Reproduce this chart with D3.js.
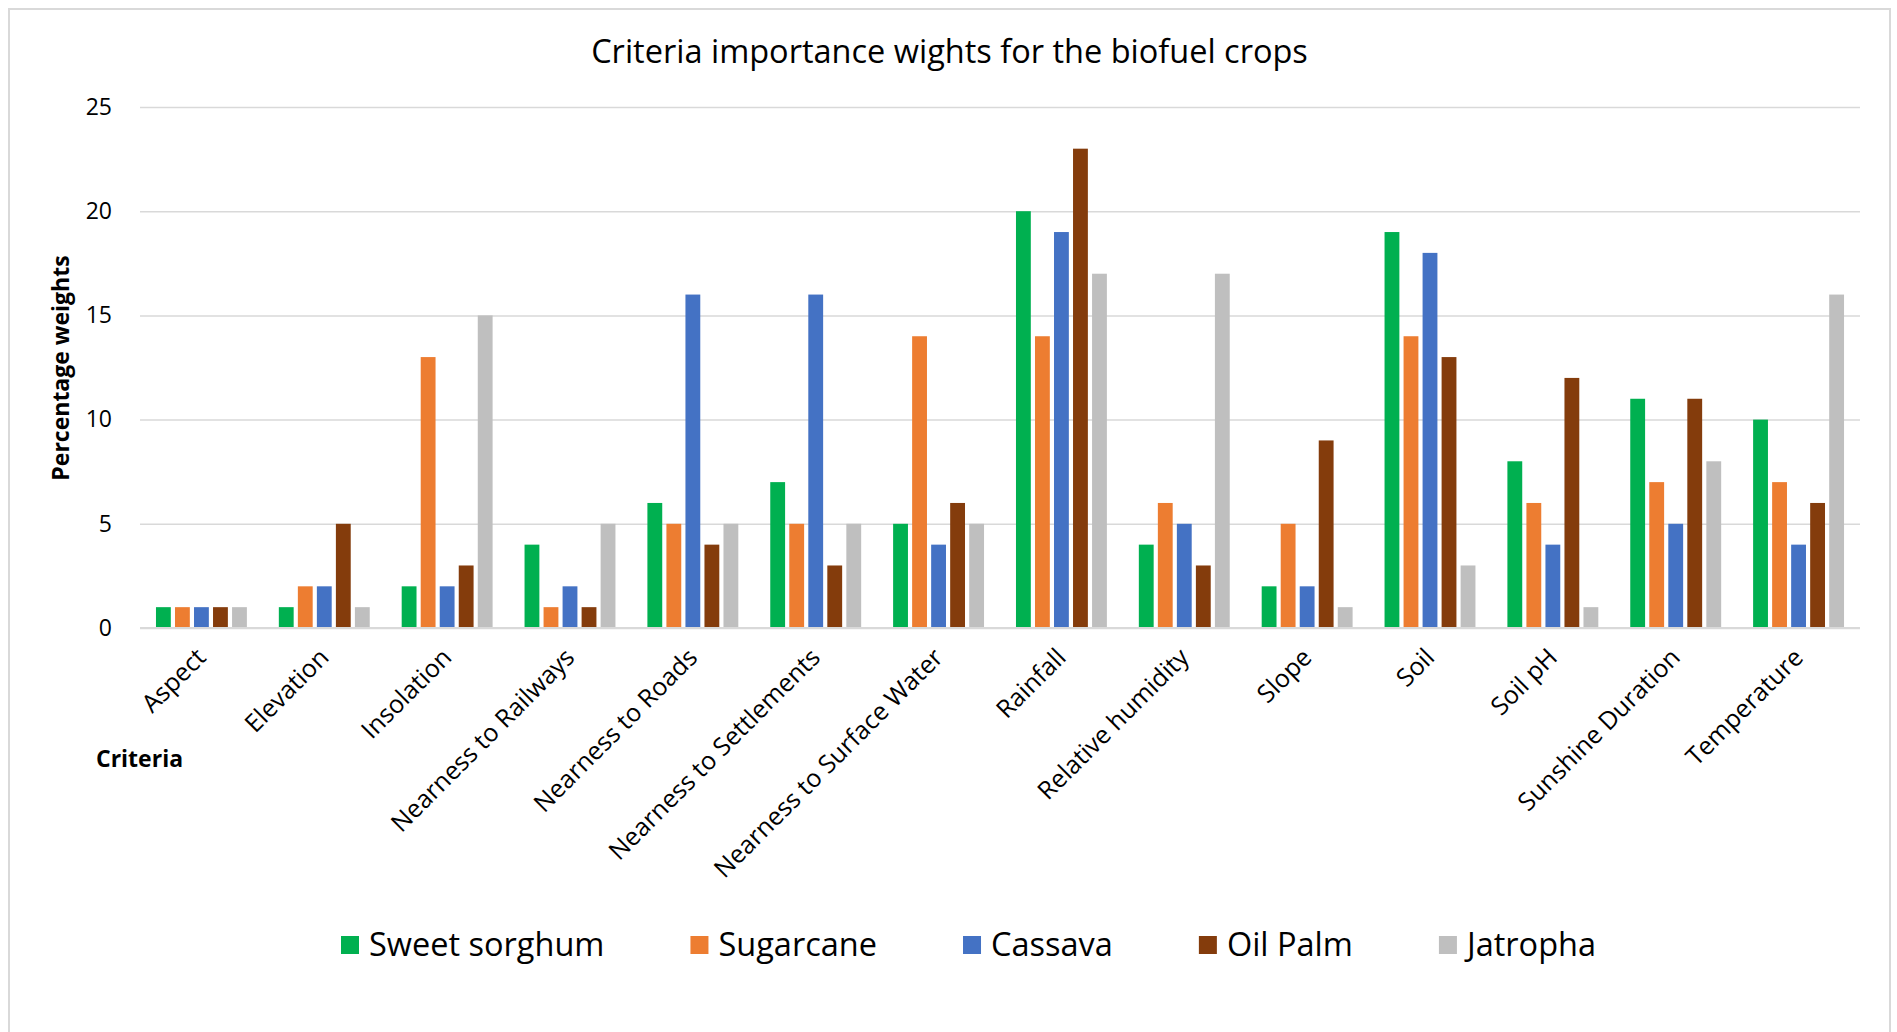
<!DOCTYPE html>
<html>
<head>
<meta charset="utf-8">
<script src="https://cdn.jsdelivr.net/npm/d3@7"></script>
<style>
  html, body { margin: 0; padding: 0; background: #ffffff; }
  svg { display: block; font-family: "Segoe UI", "Open Sans", sans-serif; }
</style>
</head>
<body>
<svg id="chart" width="1897" height="1032"></svg>
<script>
// Criteria evaluated for each crop
const categories = [
  "Aspect", "Elevation", "Insolation", "Nearness to Railways", "Nearness to Roads",
  "Nearness to Settlements", "Nearness to Surface Water", "Rainfall", "Relative humidity",
  "Slope", "Soil", "Soil pH", "Sunshine Duration", "Temperature"
];

const seriesNames = ["Sweet sorghum", "Sugarcane", "Cassava", "Oil Palm", "Jatropha"];
const seriesColors = ["#00b050", "#ed7d31", "#4472c4", "#843c0c", "#bfbfbf"];

// Percentage weight per criterion, one array per crop
const sweetSorghum = [1, 1, 2, 4, 6, 7, 5, 20, 4, 2, 19, 8, 11, 10];
const sugarcane    = [1, 2, 13, 1, 5, 5, 14, 14, 6, 5, 14, 6, 7, 7];
const cassava      = [1, 2, 2, 2, 16, 16, 4, 19, 5, 2, 18, 4, 5, 4];
const oilPalm      = [1, 5, 3, 1, 4, 3, 6, 23, 3, 9, 13, 12, 11, 6];
const jatropha     = [1, 1, 15, 5, 5, 5, 5, 17, 17, 1, 3, 1, 8, 16];

const yTicks = [0, 5, 10, 15, 20, 25];

const seriesValues = [sweetSorghum, sugarcane, cassava, oilPalm, jatropha];

const svg = d3.select("#chart");

// Chart frame
svg.append("rect")
  .attr("x", 9).attr("y", 9)
  .attr("width", 1881).attr("height", 1040)
  .attr("fill", "#ffffff")
  .attr("stroke", "#d9d9d9")
  .attr("stroke-width", 2);

const plot = { left: 140, right: 1860, top: 107, bottom: 628 };

const x0 = d3.scaleBand()
  .domain(categories)
  .range([plot.left, plot.right])
  .paddingInner(0.26)
  .paddingOuter(0.13);

const x1 = d3.scaleBand()
  .domain(seriesNames)
  .range([0, x0.bandwidth()])
  .paddingInner(0.22)
  .paddingOuter(0);

const y = d3.scaleLinear()
  .domain([0, 25])
  .range([plot.bottom, plot.top]);

// Horizontal gridlines and value labels
const yAxis = d3.axisLeft(y)
  .tickValues(yTicks)
  .tickSize(-(plot.right - plot.left))
  .tickPadding(28)
  .tickFormat(d3.format("d"));

const yG = svg.append("g")
  .attr("transform", `translate(${plot.left},0)`)
  .call(yAxis);
yG.select(".domain").remove();
yG.selectAll(".tick line")
  .attr("stroke", "#d9d9d9")
  .attr("stroke-width", 1.5);
yG.selectAll(".tick text")
  .attr("fill", "#000000")
  .style("font-size", "23px")
  .style("font-family", "'Segoe UI', 'Open Sans', sans-serif");

// Bars
const groups = svg.append("g")
  .selectAll("g")
  .data(categories)
  .join("g")
  .attr("transform", d => `translate(${x0(d)},0)`);

groups.selectAll("rect")
  .data((d, i) => seriesNames.map((s, k) => ({ series: s, k, value: seriesValues[k][i] })))
  .join("rect")
  .attr("x", d => x1(d.series))
  .attr("width", x1.bandwidth())
  .attr("y", d => y(d.value))
  .attr("height", d => y(0) - y(d.value))
  .attr("fill", d => seriesColors[d.k]);

// Baseline
svg.append("line")
  .attr("x1", plot.left).attr("x2", plot.right)
  .attr("y1", y(0)).attr("y2", y(0))
  .attr("stroke", "#d9d9d9")
  .attr("stroke-width", 2);

// Category labels, rotated
const xAxis = d3.axisBottom(x0).tickSize(0).tickPadding(0);
const xG = svg.append("g")
  .attr("transform", `translate(0,${plot.bottom})`)
  .call(xAxis);
xG.select(".domain").remove();
xG.selectAll(".tick text")
  .attr("fill", "#000000")
  .style("font-size", "25px")
  .style("font-family", "'Segoe UI', 'Open Sans', sans-serif")
  .attr("text-anchor", "end")
  .attr("dy", "0")
  .attr("transform", "translate(6,31) rotate(-45)");

// Title
svg.append("text")
  .attr("x", 949.5).attr("y", 63)
  .attr("text-anchor", "middle")
  .style("font-size", "32.5px")
  .attr("fill", "#000000")
  .text("Criteria importance wights for the biofuel crops");

// Axis titles
svg.append("text")
  .attr("transform", "translate(69,368) rotate(-90)")
  .attr("text-anchor", "middle")
  .style("font-size", "23px")
  .style("font-weight", "bold")
  .attr("fill", "#000000")
  .text("Percentage weights");

svg.append("text")
  .attr("x", 96).attr("y", 767)
  .style("font-size", "23px")
  .style("font-weight", "bold")
  .attr("fill", "#000000")
  .text("Criteria");

// Legend
const legend = svg.append("g").attr("class", "legend");
let lx = 341;
seriesNames.forEach((name, k) => {
  const item = legend.append("g").attr("transform", `translate(${lx},0)`);
  item.append("rect")
    .attr("x", 0).attr("y", 936)
    .attr("width", 18).attr("height", 18)
    .attr("fill", seriesColors[k]);
  const t = item.append("text")
    .attr("x", 28).attr("y", 956)
    .style("font-size", "32.5px")
    .attr("fill", "#000000")
    .text(name);
  lx += 28 + t.node().getComputedTextLength() + 86;
});
</script>
</body>
</html>
